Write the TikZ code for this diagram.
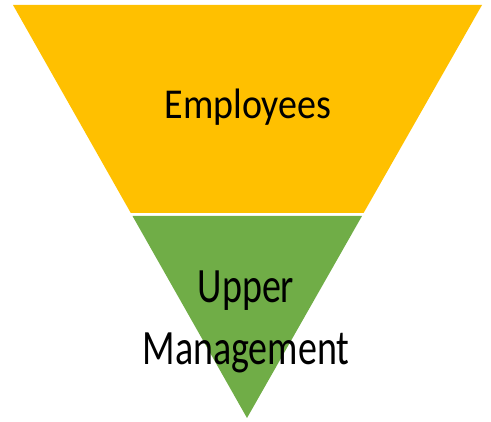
\documentclass[tikz,border=0pt]{standalone}
\usepackage{fontspec}
\setmainfont{Carlito}
\definecolor{tierorange}{HTML}{FFC000}
\definecolor{tiergreen}{HTML}{70AD47}
\begin{document}
\begin{tikzpicture}[x=1pt,y=-1pt,
  label/.style={font=\fontsize{38}{38}\selectfont, text=black, inner sep=0pt, anchor=base}]
\useasboundingbox (0,0) rectangle (491,422);
% upper band of the inverted pyramid
\fill[tierorange] (13,5) -- (482,5) -- (363.6,213) -- (130.8,213) -- cycle;
% lower tip
\fill[tiergreen] (132.5,216) -- (362,216) -- (247,418) -- cycle;
\node[label] (emp) at (248,119) {\scalebox{1}[1.12]{Employees}};
\node[label] (up) at (246,303) {\scalebox{1}[1.3]{Upper}};
\node[label] (mg) at (246,365) {\scalebox{1}[1.3]{Management}};
\end{tikzpicture}
\end{document}
